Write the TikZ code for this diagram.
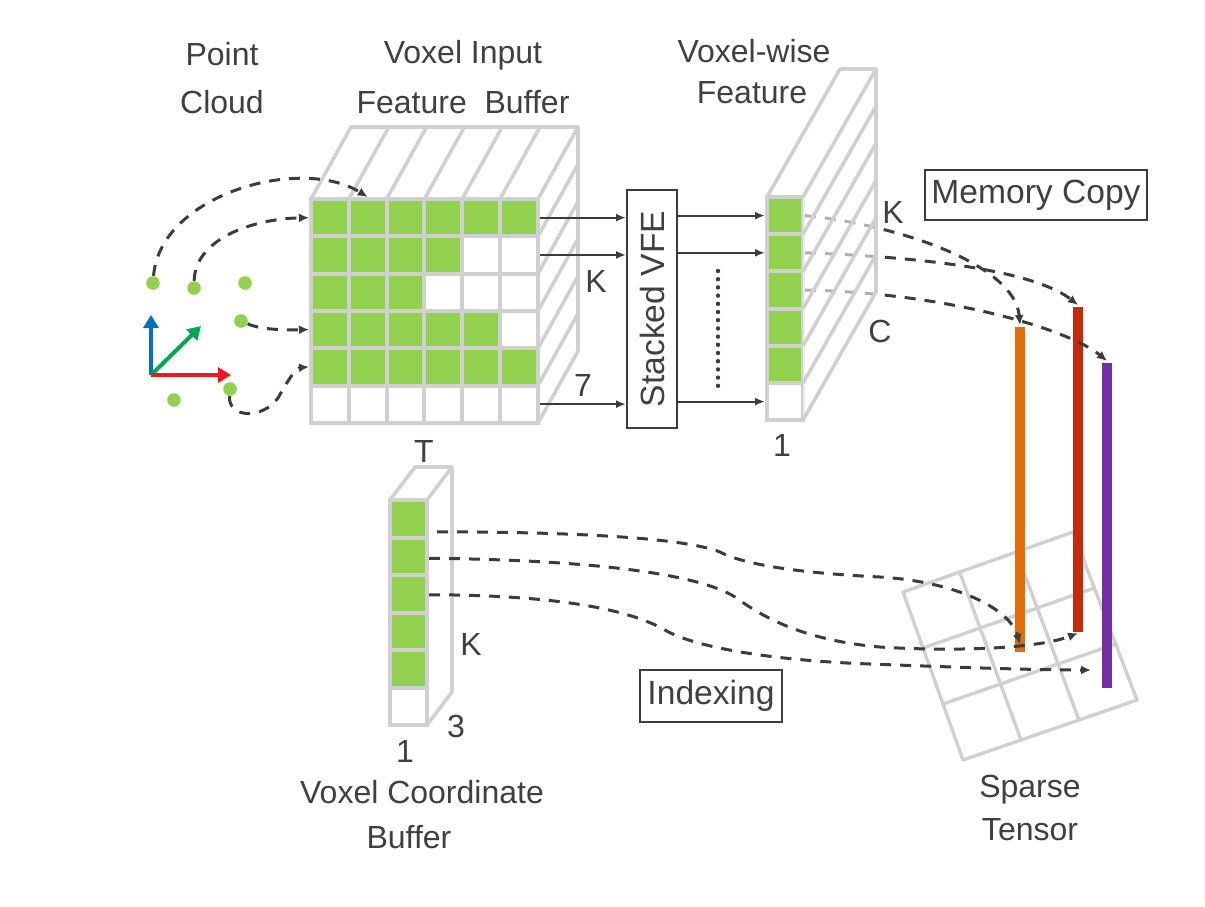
\documentclass[tikz,border=0pt]{standalone}
\usepackage{fontspec}
\setmainfont{Liberation Sans}
\usetikzlibrary{arrows.meta, calc, positioning}
\definecolor{vxGreen}{HTML}{92D050}
\definecolor{vxGrid}{HTML}{D0D0D0}
\definecolor{vxText}{HTML}{404040}
\definecolor{vxDash}{HTML}{3C3C3C}
\definecolor{vxOrange}{HTML}{E36C0A}
\definecolor{vxRed}{HTML}{C42B0C}
\definecolor{vxPurple}{HTML}{7030A0}
\definecolor{axBlue}{HTML}{0070C0}
\definecolor{axGreen}{HTML}{00A651}
\definecolor{axRed}{HTML}{F01818}
\tikzset{
  % pixel-like units: one unit is half a point, y runs downwards
  lbl/.style      = {font=\fontsize{16}{19}\selectfont, text=vxText, inner sep=0pt},
  boxlbl/.style   = {draw=vxDash, line width=1pt, font=\fontsize{16.8}{20}\selectfont,
                     text=vxText, inner sep=0pt},
  backline/.style = {draw=vxGrid, line width=1.8pt, line join=round},
  incell/.style   = {draw=vxGrid, line width=2pt, inner sep=0pt,
                     minimum width=18.9pt, minimum height=18.65pt},
  vwcell/.style   = {incell, minimum width=18pt, minimum height=18.6pt},
  cbcell/.style   = {incell, minimum width=18.5pt, minimum height=18.75pt},
  ptdot/.style    = {circle, fill=vxGreen, inner sep=0pt, minimum size=6.8pt},
  axis/.style     = {line width=2pt, -{Triangle[length=6.5pt,width=7.5pt]}},
  flow/.style     = {draw=vxDash, line width=1pt, -{Latex[length=5pt,width=4pt]}},
  dasharrow/.style= {draw=vxDash, line width=1.5pt, dash pattern=on 5.5pt off 4.5pt,
                     -{Latex[length=5pt,width=4.5pt]}},
  sparsegrid/.style = {draw=vxGrid, line width=1.7pt, line join=round},
  bar/.style      = {line width=5pt},
}

\begin{document}
\begin{tikzpicture}[x=0.5pt,y=-0.5pt]
  \useasboundingbox (0,0) rectangle (1205,906);

  % titles
  \node[lbl, anchor=base] (pc-a) at (222,65) {Point};
  \node[lbl, anchor=base] (pc-b) at (222,113) {Cloud};
  \node[lbl, anchor=base] (ib-a) at (463,63) {Voxel Input};
  \node[lbl, anchor=base] (ib-b) at (463,113) {Feature\ \ Buffer};
  \node[lbl, anchor=base] (vw-a) at (754,62) {Voxel-wise};
  \node[lbl, anchor=base] (vw-b) at (752,103) {Feature};
  \node[lbl, anchor=base] (cb-a) at (422,803) {Voxel Coordinate};
  \node[lbl, anchor=base] (cb-b) at (409,848) {Buffer};
  \node[lbl, anchor=base] (st-la) at (1030,797) {Sparse};
  \node[lbl, anchor=base] (st-lb) at (1030,840) {Tensor};

  % point cloud with its axes
  \coordinate (ax-o) at (151,375);
  \draw[axis, axBlue]  (ax-o) -- (151,315);
  \draw[axis, axGreen] (ax-o) -- (201,326);
  \draw[axis, axRed]   (ax-o) -- (231,375);
  \foreach \name/\x/\y in {p1/153/283, p2/194/288, p3/245/283, p4/241/321,
      p5/230/389, p6/174/400}
    \node[ptdot] (\name) at (\x,\y) {};

  % input buffer: back faces, then the T x K front grid
  \draw[backline] (311,199) -- ++(40,-72) -- ++(227,0) -- ++(0,224) -- ++(-40,72);
  \foreach \i in {1,...,5}
    \draw[backline] ({311+37.8*\i},199) -- ++(40,-72);
  \foreach \j in {0,...,5}
    \draw[backline] (538,{199+37.3*\j}) -- ++(40,-72);
  \foreach \row/\ng in {1/6,2/4,3/3,4/5,5/6,6/0}
    \foreach \col in {1,...,6} {
      \ifnum\col>\ng \def\cfill{white}\else\def\cfill{vxGreen}\fi
      \node[incell, fill=\cfill] (in-\row-\col)
        at ({311+37.8*(\col-0.5)},{199+37.3*(\row-0.5)}) {};
    }
  \node[lbl] (lbl-k1) at (596,281) {K};
  \node[lbl] (lbl-7) at (583,385) {7};
  \node[lbl] (lbl-t) at (424,451) {T};

  % point cloud into the buffer
  \draw[dasharrow] (p1) .. controls (160,195) and (300,155) .. (in-1-2.north);
  \draw[dasharrow] (p2) .. controls (195,240) and (250,219) .. (in-1-1.west);
  \draw[dasharrow] (p4) .. controls (262,330) and (285,330) .. (in-4-1.west);
  \draw[dasharrow] (p5) .. controls (228,418) and (262,420) .. (278,398)
                        .. controls (288,380) and (296,368) .. (in-5-1.west);

  % stacked VFE
  \node[boxlbl, minimum width=25pt, minimum height=119pt] (vfe) at (652,309)
    {\rotatebox{90}{Stacked VFE}};

  % voxel-wise feature slab
  \foreach \row in {1,...,6} {
    \ifnum\row>5 \def\cfill{white}\else\def\cfill{vxGreen}\fi
    \node[vwcell, fill=\cfill] (vw-\row) at (785,{197+37.2*(\row-0.5)}) {};
  }
  \foreach \a/\b in {in-1-6/vw-1, in-2-6/vw-2, in-6-6/vw-6} {
    \draw[flow] (\a.east) -- (vfe.west |- \a);
    \draw[flow] (vfe.east |- \b) -- (\b.west);
  }
  \draw[vxDash, line width=2.2pt, line cap=round, dash pattern=on 0pt off 4.1pt]
    (718,271) -- (718,388);

  % sparse tensor and the copied columns
  \coordinate (st-a) at (903,592);
  \coordinate (st-b) at (1073,532);
  \coordinate (st-c) at (1137,700);
  \coordinate (st-d) at (963,760);
  \draw[sparsegrid] (st-a) -- (st-b) -- (st-c) -- (st-d) -- cycle;
  \foreach \i in {1,2} {
    \draw[sparsegrid] ($(st-a)!\i/3!(st-b)$) -- ($(st-d)!\i/3!(st-c)$);
    \draw[sparsegrid] ($(st-a)!\i/3!(st-d)$) -- ($(st-b)!\i/3!(st-c)$);
  }
  \coordinate (or-top) at (1020,327);  \coordinate (or-bot) at (1020,652);
  \coordinate (rd-top) at (1078,307);  \coordinate (rd-bot) at (1078,632);
  \coordinate (pu-top) at (1107,363);  \coordinate (pu-bot) at (1107,688);
  \coordinate (pu-in) at (1091,670);
  \draw[bar, vxOrange] (or-top) -- (or-bot);
  \draw[bar, vxRed]    (rd-top) -- (rd-bot);
  \draw[bar, vxPurple] (pu-top) -- (pu-bot);

  % memory copy, seen through the slab
  \draw[dasharrow] (vw-1.east) .. controls (900,225) and (1015,265) .. ([yshift=1pt]or-top);
  \draw[dasharrow] (vw-2.east) .. controls (950,258) and (1040,275) .. ([yshift=1pt]rd-top);
  \draw[dasharrow] (vw-3.east) .. controls (950,293) and (1070,330) .. ([yshift=1pt]pu-top);
  \fill[white, opacity=0.6] (803,197) -- ++(73,-128) -- ++(0,223) -- ++(-73,128) -- cycle;
  \draw[backline] (767,197) -- ++(73,-128) -- ++(36,0) -- ++(0,223) -- ++(-73,128);
  \foreach \j in {0,...,5}
    \draw[backline] (803,{197+37.2*\j}) -- ++(73,-128);
  \node[lbl] (lbl-k2) at (893,212) {K};
  \node[lbl] (lbl-c) at (880,331) {C};
  \node[lbl] (lbl-1a) at (782,445) {1};
  \node[boxlbl, minimum width=111pt, minimum height=25pt] (memcopy) at (1036,195)
    {Memory Copy};

  % coordinate buffer
  \draw[backline] (390,500) -- ++(25,-33) -- ++(37,0) -- ++(0,225) -- ++(-25,33);
  \draw[backline] (427,500) -- ++(25,-33);
  \foreach \row in {1,...,6} {
    \ifnum\row>5 \def\cfill{white}\else\def\cfill{vxGreen}\fi
    \node[cbcell, fill=\cfill] (cb-\row) at (408.5,{500+37.5*(\row-0.5)}) {};
  }
  \node[lbl] (lbl-k3) at (471,644) {K};
  \node[lbl] (lbl-3) at (456,726) {3};
  \node[lbl] (lbl-1b) at (405,751) {1};

  % indexing into the sparse tensor
  \draw[dasharrow] ([xshift=4pt,yshift=-6.5pt]cb-1.east)
      .. controls (600,532) and (690,540) .. (720,552)
      .. controls (745,565) and (800,573) .. (880,577)
      .. controls (960,582) and (1010,610) .. ([yshift=4pt]or-bot);
  \draw[dasharrow] ([yshift=-1pt]cb-2.east)
      .. controls (600,560) and (700,575) .. (735,597)
      .. controls (760,615) and (800,640) .. (880,647)
      .. controls (960,652) and (1040,648) .. ([yshift=-0.5pt]rd-bot);
  \draw[dasharrow] ([yshift=-0.5pt]cb-3.east)
      .. controls (560,595) and (630,610) .. (665,630)
      .. controls (690,645) and (760,660) .. (870,664)
      .. controls (950,667) and (1030,670) .. (pu-in);
  \node[boxlbl, minimum width=71pt, minimum height=26pt] (indexing) at (711,696)
    {Indexing};
\end{tikzpicture}
\end{document}
